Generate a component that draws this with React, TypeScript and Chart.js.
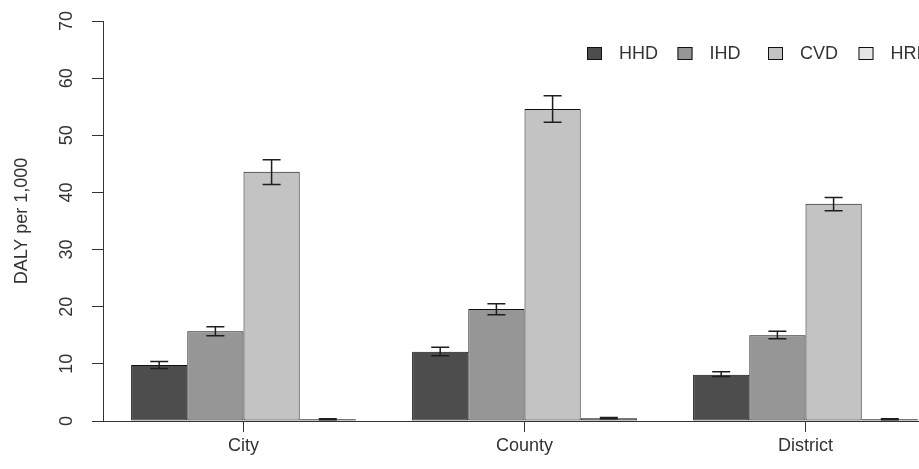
import React, { useEffect, useRef } from "react";
import { Chart, registerables } from "chart.js";

Chart.register(...registerables);

const categories = ["City", "County", "District"];
const seriesNames = ["HHD", "IHD", "CVD", "HRI"];
const seriesColors = ["#4D4D4D", "#969696", "#C3C3C3", "#E6E6E6"];

const hhdValues = [9.8, 12.1, 8.1];
const ihdValues = [15.7, 19.6, 15.0];
const cvdValues = [43.6, 54.6, 38.0];
const hriValues = [0.3, 0.5, 0.3];

const hhdLow = [9.2, 11.4, 7.8];
const hhdHigh = [10.4, 12.9, 8.6];
const ihdLow = [14.9, 18.6, 14.4];
const ihdHigh = [16.5, 20.5, 15.7];
const cvdLow = [41.4, 52.3, 36.8];
const cvdHigh = [45.7, 56.9, 39.1];
const hriLow = [0.2, 0.4, 0.2];
const hriHigh = [0.4, 0.6, 0.4];

const yTicks = [0, 10, 20, 30, 40, 50, 60, 70];
const yTitle = "DALY per 1,000";

const FONT = "'Liberation Sans', Arial, sans-serif";
const INK = "#333333";

const errorBarPlugin = {
  id: "errorBars",
  afterDatasetsDraw(chart: any) {
    const lows = [hhdLow, ihdLow, cvdLow, hriLow];
    const highs = [hhdHigh, ihdHigh, cvdHigh, hriHigh];
    const yScale = chart.scales.y;
    const ctx = chart.ctx;
    ctx.save();
    ctx.strokeStyle = "#1e1e1e";
    ctx.lineWidth = 1.5;
    chart.data.datasets.forEach((_ds: any, i: number) => {
      const meta = chart.getDatasetMeta(i);
      meta.data.forEach((bar: any, j: number) => {
        const x = bar.x;
        const yl = yScale.getPixelForValue(lows[i][j]);
        const yh = yScale.getPixelForValue(highs[i][j]);
        const cap = 9;
        ctx.beginPath();
        ctx.moveTo(x, yl);
        ctx.lineTo(x, yh);
        ctx.moveTo(x - cap, yl);
        ctx.lineTo(x + cap, yl);
        ctx.moveTo(x - cap, yh);
        ctx.lineTo(x + cap, yh);
        ctx.stroke();
      });
    });
    ctx.restore();
  },
};

// Legend drawn inside the plot area, horizontally, like R's legend(horiz=TRUE)
const insideLegendPlugin = {
  id: "insideLegend",
  afterDraw(chart: any) {
    const { ctx, chartArea } = chart;
    const step = 90.5;
    const startX = chartArea.right - 359;
    const boxTop = chartArea.top + 26;
    const boxW = 15;
    const boxH = 13;
    ctx.save();
    ctx.font = `18px ${FONT}`;
    ctx.textBaseline = "middle";
    ctx.textAlign = "left";
    chart.data.datasets.forEach((ds: any, i: number) => {
      const x = startX + i * step;
      ctx.fillStyle = ds.backgroundColor;
      ctx.fillRect(x, boxTop, boxW, boxH);
      ctx.strokeStyle = "#111111";
      ctx.lineWidth = 1;
      ctx.strokeRect(x + 0.5, boxTop + 0.5, boxW - 1, boxH - 1);
      ctx.fillStyle = INK;
      ctx.fillText(ds.label, x + 32, boxTop + boxH / 2 + 1);
    });
    ctx.restore();
  },
};

export default function App() {
  const ref = useRef<HTMLCanvasElement | null>(null);
  useEffect(() => {
    if (!ref.current) return;
    const allValues = [hhdValues, ihdValues, cvdValues, hriValues];
    const chart = new Chart(ref.current, {
      type: "bar",
      data: {
        labels: categories,
        datasets: seriesNames.map((name, i) => ({
          label: name,
          data: allValues[i],
          backgroundColor: seriesColors[i],
          borderColor: "#111111",
          borderWidth: 1,
          borderSkipped: false,
          categoryPercentage: 0.8,
          barPercentage: 1.0,
        })),
      },
      options: {
        responsive: false,
        animation: false,
        devicePixelRatio: 1,
        layout: { padding: { left: 0, top: 21, right: 4, bottom: 0 } },
        plugins: {
          tooltip: { enabled: false },
          legend: { display: false },
        },
        scales: {
          x: {
            grid: {
              offset: false,
              drawOnChartArea: false,
              tickLength: 11,
              color: INK,
            },
            border: { display: true, color: INK, width: 1 },
            ticks: {
              color: INK,
              padding: 3,
              font: { family: FONT, size: 18 },
            },
            afterFit(scale: any) {
              scale.height = 48;
              scale.paddingLeft = 0;
              scale.paddingRight = 0;
            },
          },
          y: {
            min: 0,
            max: 70,
            afterBuildTicks(scale: any) {
              scale.ticks = yTicks.map((v) => ({ value: v }));
            },
            grid: {
              drawOnChartArea: false,
              tickLength: 11,
              color: INK,
            },
            border: { display: true, color: INK, width: 1 },
            ticks: {
              color: INK,
              minRotation: 90,
              maxRotation: 90,
              crossAlign: "center",
              padding: 15,
              font: { family: FONT, size: 18 },
            },
            title: {
              display: true,
              text: yTitle,
              color: INK,
              padding: { top: 11, bottom: 0 },
              font: { family: FONT, size: 18 },
            },
            afterFit(scale: any) {
              scale.width = 103;
              scale.paddingTop = 0;
              scale.paddingBottom = 0;
            },
          },
        },
      },
      plugins: [errorBarPlugin, insideLegendPlugin],
    });
    return () => chart.destroy();
  }, []);

  return (
    <div
      style={{
        position: "fixed",
        left: 0,
        top: 0,
        width: 919,
        height: 469,
        overflow: "hidden",
        background: "#ffffff",
      }}
    >
      <canvas ref={ref} width={950} height={469} style={{ display: "block" }} />
    </div>
  );
}
